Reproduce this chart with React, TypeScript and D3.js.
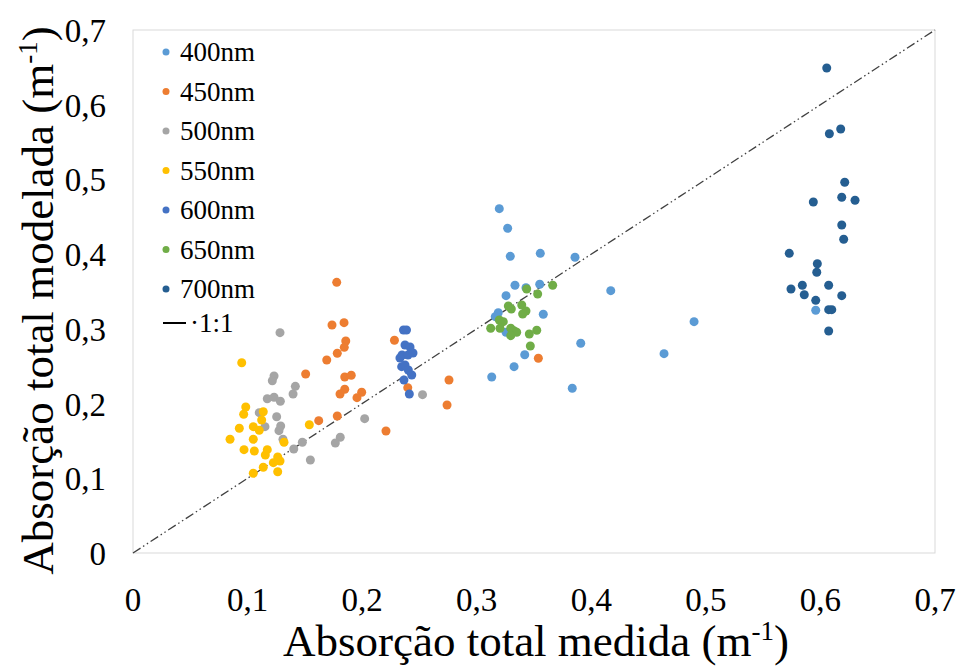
import React, { useEffect, useRef } from "react";
import * as d3 from "d3";

// Dimensions
const width = 956;
const height = 667;
const plot = { left: 133, right: 935, top: 30, bottom: 553 };

// Data: [measured, modelled] per wavelength
const s400 = [
  [0.3197, 0.4609], [0.327, 0.4346], [0.3293, 0.3971], [0.3555, 0.4011], [0.3858, 0.3958],
  [0.3334, 0.3583], [0.343, 0.3551], [0.355, 0.3597], [0.3256, 0.3444], [0.3188, 0.3216],
  [0.3162, 0.3163], [0.3581, 0.3195], [0.417, 0.3511], [0.3256, 0.2954], [0.3908, 0.2807],
  [0.3419, 0.2654], [0.3326, 0.2494], [0.3131, 0.2356], [0.3834, 0.2205], [0.4635, 0.2668],
  [0.4897, 0.3096], [0.5959, 0.3249],
];
const s450 = [
  [0.1778, 0.3623], [0.1737, 0.3052], [0.1842, 0.3083], [0.1857, 0.2838], [0.1844, 0.2753],
  [0.1783, 0.2673], [0.1691, 0.2583], [0.1507, 0.2396], [0.1848, 0.2356], [0.1905, 0.2379],
  [0.1848, 0.2191], [0.1807, 0.2128], [0.1996, 0.2151], [0.1955, 0.2079], [0.1783, 0.1834],
  [0.1621, 0.1771], [0.2282, 0.2848], [0.2208, 0.1633], [0.2398, 0.2213], [0.2758, 0.2316],
  [0.2741, 0.1981], [0.3538, 0.2606],
];
const s500 = [
  [0.1283, 0.2949], [0.1231, 0.2369], [0.1216, 0.2306], [0.1417, 0.2231], [0.1397, 0.2128],
  [0.1172, 0.2065], [0.1231, 0.2084], [0.1286, 0.2031], [0.1102, 0.1878], [0.1254, 0.1824],
  [0.1152, 0.1691], [0.1289, 0.17], [0.1274, 0.1637], [0.1309, 0.1522], [0.1478, 0.1482],
  [0.1403, 0.1392], [0.1809, 0.1549], [0.1766, 0.1472], [0.2022, 0.1798], [0.1548, 0.1245],
  [0.2527, 0.2119],
];
const s550 = [
  [0.0949, 0.2547], [0.0984, 0.1954], [0.0966, 0.1857], [0.1137, 0.1891], [0.1123, 0.178],
  [0.105, 0.1691], [0.1102, 0.1642], [0.0928, 0.1669], [0.0847, 0.1522], [0.105, 0.1522],
  [0.1539, 0.1717], [0.1318, 0.1482], [0.0969, 0.1383], [0.1059, 0.1365], [0.1172, 0.1383],
  [0.1155, 0.1312], [0.1263, 0.1285], [0.1225, 0.1209], [0.1283, 0.1231], [0.1137, 0.1147],
  [0.1263, 0.1088], [0.105, 0.1067],
];
const s600 = [
  [0.2361, 0.2985], [0.2387, 0.2985], [0.2374, 0.2784], [0.2418, 0.2757], [0.2348, 0.265],
  [0.24, 0.265], [0.2444, 0.2677], [0.233, 0.261], [0.2345, 0.2494], [0.2374, 0.2516],
  [0.2403, 0.2449], [0.2433, 0.2383], [0.2365, 0.2316], [0.2412, 0.2128],
];
const s650 = [
  [0.3436, 0.3534], [0.3663, 0.3583], [0.3532, 0.3467], [0.3276, 0.3306], [0.3302, 0.3266],
  [0.3393, 0.332], [0.343, 0.3239], [0.3401, 0.3199], [0.3197, 0.3119], [0.3232, 0.3096],
  [0.3122, 0.3008], [0.3203, 0.3008], [0.3297, 0.3008], [0.3325, 0.2976], [0.3349, 0.2954],
  [0.3297, 0.2909], [0.3459, 0.2931], [0.3524, 0.2981], [0.3468, 0.2771],
];
const s700 = [
  [0.6055, 0.6492], [0.6078, 0.5612], [0.6177, 0.5675], [0.6212, 0.4962], [0.6186, 0.4761],
  [0.6302, 0.4721], [0.5938, 0.4698], [0.6186, 0.439], [0.6203, 0.4199], [0.5728, 0.4011],
  [0.5973, 0.3872], [0.5968, 0.3757], [0.5743, 0.3534], [0.5842, 0.3583], [0.5859, 0.3457],
  [0.6072, 0.3583], [0.6186, 0.3444], [0.5959, 0.3382], [0.6072, 0.3257], [0.6099, 0.3257],
  [0.6072, 0.2971],
];

const seriesNames = ["400nm", "450nm", "500nm", "550nm", "600nm", "650nm", "700nm"];
const seriesData = [s400, s450, s500, s550, s600, s650, s700];
const seriesColours = ["#5B9BD5", "#ED7D31", "#A5A5A5", "#FFC000", "#4472C4", "#70AD47", "#255E91"];
const ticks = [0, 0.1, 0.2, 0.3, 0.4, 0.5, 0.6, 0.7];

const font = "'Liberation Serif', 'Times New Roman', serif";
const dashDot = "9,3,1.5,3,1.5,3";

const fmt = (v: number) => (v === 0 ? "0" : d3.format(".1f")(v).replace(".", ","));

const App = () => {
  const ref = useRef<SVGSVGElement | null>(null);

  useEffect(() => {
    if (!ref.current) return;
    const svg = d3.select(ref.current);
    svg.selectAll("*").remove();

    const x = d3.scaleLinear().domain([0, 0.7]).range([plot.left, plot.right]);
    const y = d3.scaleLinear().domain([0, 0.7]).range([plot.bottom, plot.top]);

    svg.append("rect").attr("width", width).attr("height", height).attr("fill", "#fff");

    // plot frame
    svg
      .append("rect")
      .attr("x", plot.left)
      .attr("y", plot.top)
      .attr("width", plot.right - plot.left)
      .attr("height", plot.bottom - plot.top)
      .attr("fill", "none")
      .attr("stroke", "#D9D9D9")
      .attr("stroke-width", 1);

    // tick labels
    svg
      .append("g")
      .selectAll("text")
      .data(ticks)
      .join("text")
      .attr("x", 106)
      .attr("y", (d) => y(d) + 12)
      .attr("text-anchor", "end")
      .attr("font-family", font)
      .attr("font-size", 33)
      .text((d) => fmt(d));

    svg
      .append("g")
      .selectAll("text")
      .data(ticks)
      .join("text")
      .attr("x", (d) => x(d))
      .attr("y", 611)
      .attr("text-anchor", "middle")
      .attr("font-family", font)
      .attr("font-size", 33)
      .text((d) => fmt(d));

    // 1:1 line
    svg
      .append("line")
      .attr("x1", x(0))
      .attr("y1", y(0))
      .attr("x2", x(0.7))
      .attr("y2", y(0.7))
      .attr("stroke", "#404040")
      .attr("stroke-width", 1.3)
      .attr("stroke-dasharray", dashDot);

    // points
    seriesData.forEach((pts, i) => {
      svg
        .append("g")
        .selectAll("circle")
        .data(pts)
        .join("circle")
        .attr("cx", (d) => x(d[0]))
        .attr("cy", (d) => y(d[1]))
        .attr("r", 4.5)
        .attr("fill", seriesColours[i]);
    });

    // legend
    const legend = svg.append("g");
    seriesNames.forEach((name, i) => {
      const ly = 52 + i * 39.5;
      legend.append("circle").attr("cx", 166).attr("cy", ly).attr("r", 3.5).attr("fill", seriesColours[i]);
      legend
        .append("text")
        .attr("x", 180)
        .attr("y", ly + 9)
        .attr("font-family", font)
        .attr("font-size", 27)
        .text(name);
    });
    legend
      .append("line")
      .attr("x1", 163)
      .attr("x2", 186)
      .attr("y1", 323)
      .attr("y2", 323)
      .attr("stroke", "#000")
      .attr("stroke-width", 2);
    legend
      .append("text")
      .attr("x", 190)
      .attr("y", 332)
      .attr("font-family", font)
      .attr("font-size", 27)
      .text("·1:1");

    // axis titles
    const xt = svg
      .append("text")
      .attr("x", (plot.left + plot.right) / 2 + 2)
      .attr("y", 656)
      .attr("text-anchor", "middle")
      .attr("font-family", font)
      .attr("font-size", 45);
    xt.append("tspan").text("Absorção total medida (m");
    xt.append("tspan").attr("dy", -16).attr("font-size", 27).text("-1");
    xt.append("tspan").attr("dy", 16).text(")");

    const yt = svg
      .append("text")
      .attr("transform", `translate(53, ${(plot.top + plot.bottom) / 2 + 9}) rotate(-90)`)
      .attr("text-anchor", "middle")
      .attr("font-family", font)
      .attr("font-size", 45);
    yt.append("tspan").text("Absorção total modelada (m");
    yt.append("tspan").attr("dy", -16).attr("font-size", 27).text("-1");
    yt.append("tspan").attr("dy", 16).text(")");
  }, []);

  return (
    <div style={{ position: "absolute", left: 0, top: 0 }}>
      <svg ref={ref} width={width} height={height} style={{ display: "block" }} />
    </div>
  );
};

export default App;
